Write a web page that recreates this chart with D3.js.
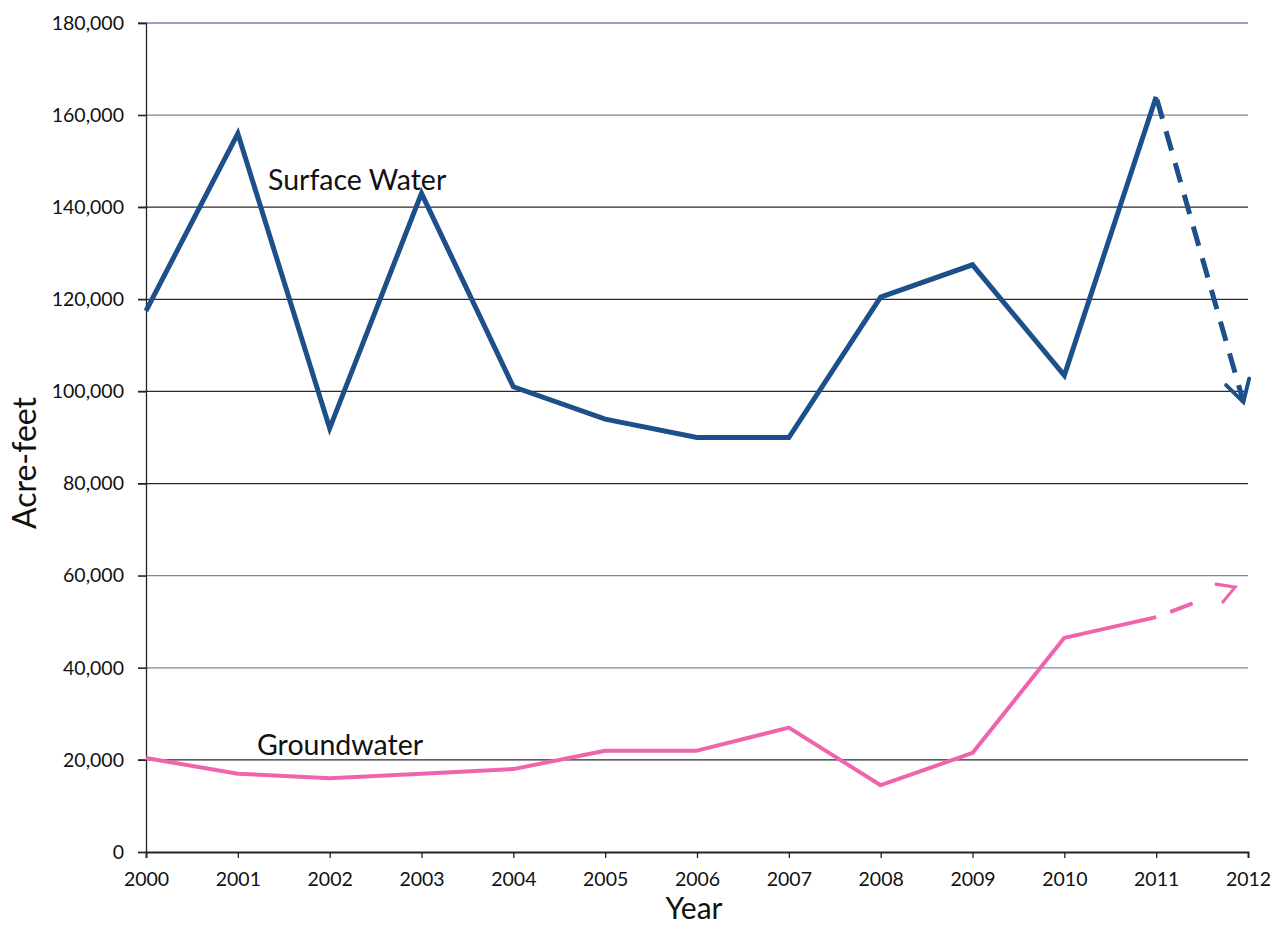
<!DOCTYPE html>
<html><head><meta charset="utf-8">
<script src="https://cdn.jsdelivr.net/npm/d3@7"></script>
<style>body{margin:0;background:#fff}svg{display:block}text{font-family:Lato,"Open Sans",sans-serif}</style>
</head><body><svg id="c" width="1276" height="928"></svg>
<script>
const years = [2000,2001,2002,2003,2004,2005,2006,2007,2008,2009,2010,2011];
const surfaceWater = [117500,156000,92000,143000,101000,94000,90000,90000,120500,127500,103500,164000];
const groundwater = [20400,17000,16000,17000,18000,22000,22000,27000,14500,21500,46500,51000];
const surfaceProjection = [[2011,164000],[2011.95,97700]];
const groundProjection = [[2011,51000],[2011.86,57500]];
const yTicks = [0,20000,40000,60000,80000,100000,120000,140000,160000,180000];
const xTicks = [2000,2001,2002,2003,2004,2005,2006,2007,2008,2009,2010,2011,2012];

const svg = d3.select("#c");
const x = d3.scaleLinear().domain([2000,2012]).range([146,1248]);
const y = d3.scaleLinear().domain([0,180000]).range([852,23]);

// gridlines
svg.append("g").selectAll("line").data(yTicks.filter(d=>d>0)).join("line")
  .attr("x1",138).attr("x2",1248).attr("y1",d=>y(d)).attr("y2",d=>y(d))
  .attr("stroke",d=>[180000,160000,60000,40000].includes(d)?"#7c84a0":"#2a2a2a").attr("stroke-width",1.3);

const fmt = d3.format(",");
const yAxis = svg.append("g").attr("transform","translate(146,0)")
  .call(d3.axisLeft(y).tickValues(yTicks).tickFormat(fmt).tickSize(8).tickPadding(14));
yAxis.select(".domain").attr("stroke","#222").attr("stroke-width",1.3);
yAxis.selectAll(".tick line").attr("stroke","#222").attr("stroke-width",1.3);
yAxis.selectAll("text").attr("font-size",19.5).attr("fill","#111").style("font-family","Lato");

const xAxis = svg.append("g").attr("transform","translate(0,852)")
  .call(d3.axisBottom(x).tickValues(xTicks).tickFormat(d3.format("d")).tickSize(6).tickPadding(14));
xAxis.select(".domain").attr("stroke","#222").attr("stroke-width",1.8);
xAxis.selectAll(".tick line").attr("stroke","#222").attr("stroke-width",1.3);
xAxis.selectAll("text").attr("font-size",19.5).attr("fill","#111").style("font-family","Lato");

// axis titles
svg.append("text").attr("transform","translate(36,463) rotate(-90)").attr("text-anchor","middle")
  .attr("font-size",32).attr("fill","#111").text("Acre-feet");
svg.append("text").attr("x",694).attr("y",919).attr("text-anchor","middle")
  .attr("font-size",30).attr("fill","#111").text("Year");

const line = d3.line().x(d=>x(d[0])).y(d=>y(d[1]));
const blue = "#1d4f8a", pink = "#f064ad";

svg.append("path").datum(years.map((yr,i)=>[yr,surfaceWater[i]]))
  .attr("d",line).attr("fill","none").attr("stroke",blue).attr("stroke-width",5).attr("stroke-linejoin","miter");
svg.append("path").datum(years.map((yr,i)=>[yr,groundwater[i]]))
  .attr("d",line).attr("fill","none").attr("stroke",pink).attr("stroke-width",4).attr("stroke-linejoin","round");

// markers
const defs = svg.append("defs");
function marker(id,color){
  defs.append("marker").attr("id",id).attr("viewBox","0 0 10 10").attr("refX",8).attr("refY",5)
    .attr("markerWidth",6).attr("markerHeight",6).attr("markerUnits","strokeWidth").attr("orient","auto")
    .append("path").attr("d","M1,1 L8,5 L1,9").attr("fill","none").attr("stroke",color).attr("stroke-width",1.3).attr("stroke-linecap","round");
}
marker("ab",blue); marker("ap",pink);

svg.append("path").datum(surfaceProjection).attr("d",line).attr("fill","none")
  .attr("stroke",blue).attr("stroke-width",5).attr("stroke-dasharray","20,13").attr("stroke-dashoffset",-3)
  .attr("marker-end","url(#ab)");
svg.append("path").datum(groundProjection).attr("d",line).attr("fill","none")
  .attr("stroke",pink).attr("stroke-width",4).attr("stroke-dasharray","0,15,24,200")
  .attr("marker-end","url(#ap)");

// series labels
svg.append("text").attr("x",268).attr("y",190).attr("font-size",28.5).attr("fill","#111").text("Surface Water");
svg.append("text").attr("x",257).attr("y",755).attr("font-size",28.5).attr("fill","#111").text("Groundwater");
</script></body></html>
